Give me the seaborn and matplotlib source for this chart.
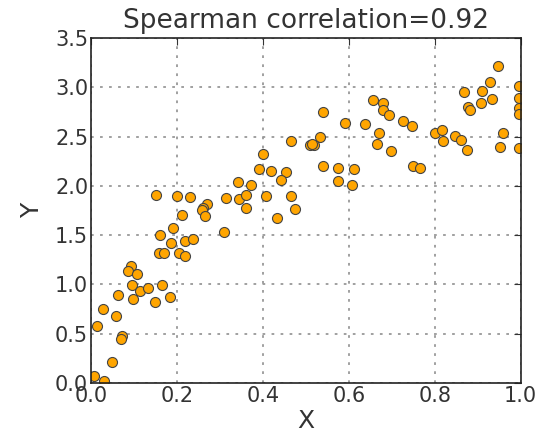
import numpy as np
import pandas as pd
import matplotlib
matplotlib.use("Agg")
import matplotlib.pyplot as plt
import seaborn as sns

# values
x_vals = [0.465, 0.51, 0.40, 0.391, 0.419, 0.454, 0.443, 0.343, 0.372, 0.152,
          0.20, 0.231, 0.27, 0.314, 0.344, 0.36, 0.408, 0.465, 0.36, 0.475,
          0.261, 0.259, 0.266, 0.212, 0.433, 0.19, 0.16, 0.31, 0.186, 0.219,
          0.237, 0.158, 0.17, 0.205, 0.218, 0.093, 0.085, 0.108, 0.096, 0.113,
          0.132, 0.166, 0.062, 0.098, 0.149, 0.184, 0.028, 0.059, 0.015, 0.071,
          0.07, 0.05, 0.006, 0.031,
          0.947, 0.929, 0.996, 0.868, 0.91, 0.932, 0.907, 0.878, 0.882, 0.997,
          0.997, 0.996, 0.656, 0.68, 0.68, 0.693, 0.54, 0.59, 0.637, 0.727,
          0.747, 0.671, 0.665, 0.698, 0.533, 0.519, 0.515, 0.80, 0.817, 0.818,
          0.848, 0.86, 0.875, 0.958, 0.952, 0.997, 0.54, 0.575, 0.612, 0.575,
          0.608, 0.75, 0.766]
y_vals = [2.457, 2.41, 2.32, 2.167, 2.15, 2.137, 2.06, 2.04, 2.01, 1.907,
          1.90, 1.89, 1.815, 1.873, 1.863, 1.91, 1.90, 1.897, 1.78, 1.77,
          1.775, 1.75, 1.69, 1.70, 1.67, 1.575, 1.505, 1.53, 1.42, 1.44,
          1.46, 1.315, 1.32, 1.315, 1.29, 1.187, 1.133, 1.105, 0.997, 0.936,
          0.963, 0.997, 0.896, 0.855, 0.821, 0.869, 0.754, 0.683, 0.578, 0.477,
          0.443, 0.213, 0.074, 0.017,
          3.22, 3.056, 3.01, 2.95, 2.965, 2.877, 2.843, 2.796, 2.77, 2.887,
          2.79, 2.73, 2.873, 2.84, 2.77, 2.715, 2.752, 2.637, 2.63, 2.66,
          2.603, 2.54, 2.42, 2.356, 2.495, 2.414, 2.42, 2.532, 2.566, 2.457,
          2.505, 2.464, 2.36, 2.532, 2.393, 2.38, 2.198, 2.18, 2.167, 2.05,
          2.008, 2.198, 2.18]
x_ticks = [0.0, 0.2, 0.4, 0.6, 0.8, 1.0]
y_ticks = [0.0, 0.5, 1.0, 1.5, 2.0, 2.5, 3.0, 3.5]

df = pd.DataFrame({"X": x_vals, "Y": y_vals})

sns.set_style("white")
plt.rcParams['font.family'] = ['DejaVu Sans']

fig = plt.figure(figsize=(5.43, 4.34), dpi=100)
ax = fig.add_axes([0.1676, 0.1175, 0.7914, 0.795])

sns.scatterplot(data=df, x="X", y="Y", ax=ax, s=52, color="#FFA500",
                edgecolor="#444444", linewidth=0.8, clip_on=True)

ax.set_xlim(0, 1)
ax.set_ylim(0, 3.5)
ax.set_xticks(x_ticks)
ax.set_yticks(y_ticks)
ax.set_xticklabels([f"{t:.1f}" for t in x_ticks], fontsize=15, color="#333333")
ax.set_yticklabels([f"{t:.1f}" for t in y_ticks], fontsize=15, color="#333333")
ax.tick_params(direction="in", length=5, pad=2, top=True, right=True,
               color="#333333")
ax.grid(True, linestyle=(0, (1.5, 3.5)), color="#999999", linewidth=1.3)
for sp in ax.spines.values():
    sp.set_color("#222222")
    sp.set_linewidth(1.2)

ax.set_xlabel("X", fontsize=18, color="#333333", labelpad=2)
ax.set_ylabel("Y", fontsize=18, color="#333333", labelpad=8)
ax.set_title("Spearman correlation=0.92", fontsize=19, color="#333333", pad=7)

fig.savefig("out.png", dpi=100)
